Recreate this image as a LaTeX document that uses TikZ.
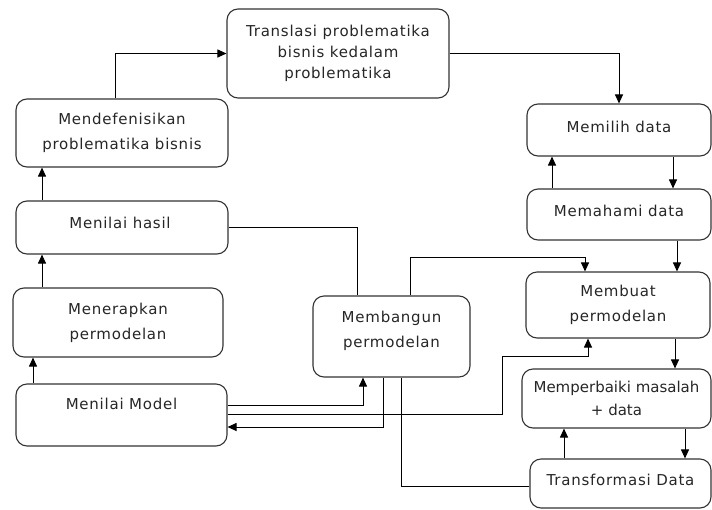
\documentclass[tikz,border=0pt]{standalone}
\usepackage{fontspec}
\setmainfont[LetterSpace=5]{DejaVu Sans}
\newfontfamily\plainfont{DejaVu Sans}
\usetikzlibrary{arrows.meta}
\begin{document}
\begin{tikzpicture}[x=1pt,y=-1pt,
  box/.style={draw=black!80, line width=1.1pt, rounded corners=11pt, align=center,
    text=black!85, font=\fontsize{15}{25}\selectfont, inner sep=0pt},
  txt/.style={align=center, text=black!85, font=\fontsize{15}{25}\selectfont, inner sep=0pt},
  ln/.style={draw=black, line width=1pt},
  arr/.style={ln, -{Triangle[length=9pt,width=8pt]}}]
\useasboundingbox (0,0) rectangle (712,509);
% boxes
\node[box, minimum width=222pt, minimum height=89pt, font=\fontsize{15}{21}\selectfont] (tr) at (338,53.5) {Translasi problematika\\bisnis kedalam\\problematika};
\node[box, minimum width=212pt, minimum height=68pt] (md) at (122,133) {Mendefenisikan\\problematika bisnis};
\node[box, minimum width=212pt, minimum height=53pt] (mh) at (122,227.5) {};
\node[txt] (mhtext) at (120,223) {Menilai hasil};
\node[box, minimum width=210pt, minimum height=69pt] (mp) at (118,322.5) {Menerapkan\\permodelan};
\node[box, minimum width=211pt, minimum height=62pt] (mm) at (121.5,415) {};
\node[txt] (mmtext) at (121.5,404) {Menilai Model};
\node[box, minimum width=157pt, minimum height=81pt] (mb) at (391.5,336.5) {};
\node[txt] (mbtext) at (391.5,331) {Membangun\\permodelan};
\node[box, minimum width=184pt, minimum height=52pt] (ml) at (619,130) {};
\node[txt] (mltext) at (619,127) {Memilih data};
\node[box, minimum width=184pt, minimum height=51pt] (mhd) at (619,214.5) {};
\node[txt] (mhdtext) at (619,211) {Memahami data};
\node[box, minimum width=184pt, minimum height=66pt] (mbp) at (618,305) {Membuat\\permodelan};
\node[box, minimum width=189pt, minimum height=59pt, font=\plainfont\fontsize{15}{23}\selectfont] (mpb) at (616.5,398.5) {Memperbaiki masalah\\+ data};
\node[box, minimum width=181pt, minimum height=49pt] (tf) at (620.5,483.5) {};
\node[txt] (tftext) at (620.5,480) {Transformasi Data};
% connectors
\draw[arr] (md.north -| 115,0) |- (tr.west);
\draw[arr] (tr.east) -| (ml.north);
\draw[arr] (ml.south -| 673,0) -- (mhd.north -| 673,0);
\draw[arr] (mhd.north -| 552,0) -- (ml.south -| 552,0);
\draw[arr] (mhd.south -| 677,0) -- (mbp.north -| 677,0);
\draw[arr] (mbp.south -| 675,0) -- (mpb.north -| 675,0);
\draw[arr] (mpb.south -| 685,0) -- (tf.north -| 685,0);
\draw[arr] (tf.north -| 564,0) -- (mpb.south -| 564,0);
\draw[ln] (tf.west |- 0,486) -| (mb.south -| 401,0);
\draw[arr] (mb.north -| 410,0) -- (410,257) -| (mbp.north -| 585,0);
\draw[ln] (mh.east) -| (mb.north -| 357,0);
\draw[arr] (mm.east |- 0,405) -| (mb.south -| 363,0);
\draw[arr] (mm.east |- 0,414) -- (502,414) |- (588,356) -- (mbp.south -| 588,0);
\draw[arr] (mb.south -| 383,0) |- (mm.east |- 0,427);
\draw[arr] (mm.north -| 33,0) -- (mp.south -| 33,0);
\draw[arr] (mp.north -| 42,0) -- (mh.south -| 42,0);
\draw[arr] (mh.north -| 42,0) -- (md.south -| 42,0);
\end{tikzpicture}
\end{document}
